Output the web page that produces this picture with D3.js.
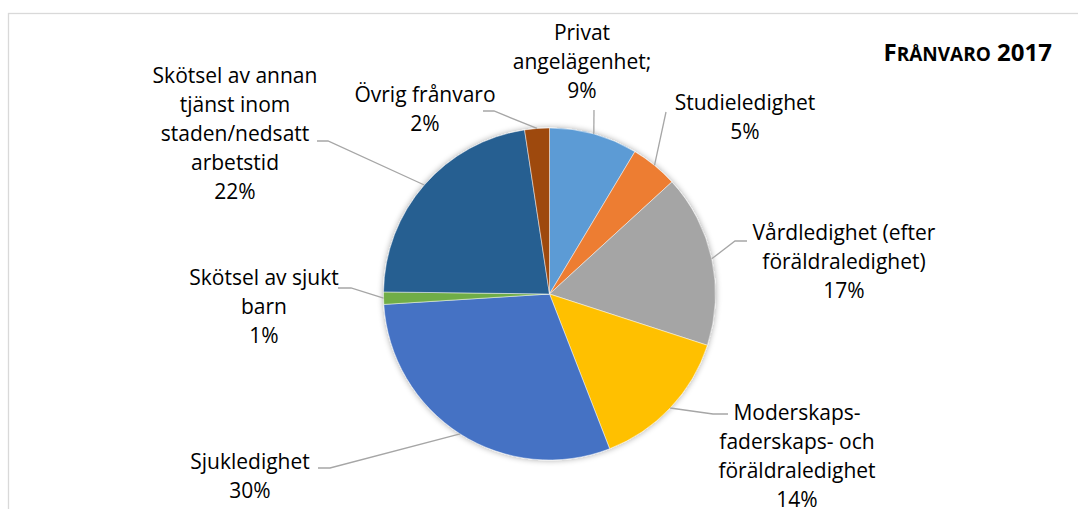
<!DOCTYPE html>
<html><head><meta charset="utf-8">
<script src="https://cdn.jsdelivr.net/npm/d3@7"></script>
<style>
html,body{margin:0;padding:0;background:#fff;}
svg{display:block;}
text{font-family:"Open Sans","Noto Sans",sans-serif;fill:#000;}
</style></head>
<body>
<svg id="chart" width="1078" height="509"></svg>
<script>
// ---- data ----
const categories = [
  "Privat angelägenhet;",
  "Studieledighet",
  "Vårdledighet (efter föräldraledighet)",
  "Moderskaps- faderskaps- och föräldraledighet",
  "Sjukledighet",
  "Skötsel av sjukt barn",
  "Skötsel av annan tjänst inom staden/nedsatt arbetstid",
  "Övrig frånvaro"
];
const values = [8.6, 4.6, 16.8, 14.1, 29.9, 1.2, 22.4, 2.4];
const labelLines = [
  ["Privat", "angelägenhet;"],
  ["Studieledighet"],
  ["Vårdledighet (efter", "föräldraledighet)"],
  ["Moderskaps-", "faderskaps- och", "föräldraledighet"],
  ["Sjukledighet"],
  ["Skötsel av sjukt", "barn"],
  ["Skötsel av annan", "tjänst inom", "staden/nedsatt", "arbetstid"],
  ["Övrig frånvaro"]
];
const colors = ["#5B9BD5", "#ED7D31", "#A5A5A5", "#FFC000", "#4472C4", "#70AD47", "#255E91", "#9E480E"];
const title = "FRÅNVARO 2017";

// ---- layout (label placement) ----
const labelLayout = [
  {x: 582, y: 40,  leader: [[594, 110]]},
  {x: 745, y: 110, leader: [[666, 112]]},
  {x: 844, y: 240, leader: [[747, 241], [735, 241]]},
  {x: 797, y: 420, leader: [[728, 414], [713, 414]]},
  {x: 250, y: 469, leader: [[318, 468], [330, 468]]},
  {x: 264, y: 285, leader: [[338, 288], [351, 288]]},
  {x: 235, y: 83,  leader: [[317, 141], [328, 141]]},
  {x: 425, y: 102, leader: [[483, 111], [494, 111]]}
];
const lineH = 29;

const svg = d3.select("#chart");
const cx = 549.5, cy = 294, R = 166;

// frame
svg.append("rect").attr("x", 8.5).attr("y", 13.5).attr("width", 1200).attr("height", 700)
  .attr("fill", "#fff").attr("stroke", "#d9d9d9").attr("stroke-width", 1.3);

// shadow filter
const defs = svg.append("defs");
const f = defs.append("filter").attr("id", "sh").attr("x", "-20%").attr("y", "-20%").attr("width", "140%").attr("height", "140%");
f.append("feGaussianBlur").attr("in", "SourceAlpha").attr("stdDeviation", 3).attr("result", "b");
f.append("feComponentTransfer").attr("in", "b").attr("result", "o2")
  .append("feFuncA").attr("type", "linear").attr("slope", 0.35);
const m = f.append("feMerge");
m.append("feMergeNode").attr("in", "o2");
m.append("feMergeNode").attr("in", "SourceGraphic");

const pie = d3.pie().sort(null).value(d => d);
const arcs = pie(values);
const arc = d3.arc().innerRadius(0).outerRadius(R);

const g = svg.append("g").attr("transform", `translate(${cx},${cy})`);
g.append("g").attr("filter", "url(#sh)")
  .selectAll("path").data(arcs).join("path")
  .attr("d", arc)
  .attr("fill", (d, i) => colors[i])
  .attr("stroke", "#fff").attr("stroke-width", 0.8).attr("stroke-opacity", 0.6);

const total = d3.sum(values);

// leaders
const line = d3.line();
arcs.forEach((a, i) => {
  const mid = (a.startAngle + a.endAngle) / 2;
  const px = cx + R * Math.sin(mid), py = cy - R * Math.cos(mid);
  const pts = labelLayout[i].leader.concat([[px, py]]);
  svg.append("path").attr("d", line(pts)).attr("fill", "none")
    .attr("stroke", "#a6a6a6").attr("stroke-width", 1.3);
});

// labels
arcs.forEach((a, i) => {
  const L = labelLayout[i];
  const lines = labelLines[i].concat([Math.round(values[i] / total * 100) + "%"]);
  const t = svg.append("text").attr("text-anchor", "middle").style("font-size", "21px");
  lines.forEach((s, k) => {
    t.append("tspan").attr("x", L.x).attr("y", L.y + k * lineH).text(s);
  });
});

// title
const tt = svg.append("text").attr("x", 1052).attr("y", 61).attr("text-anchor", "end")
  .style("font-weight", "bold");
tt.append("tspan").style("font-size", "24px").text(title.slice(0, 1));
tt.append("tspan").style("font-size", "19px").text(title.slice(1, 8));
tt.append("tspan").style("font-size", "24px").text(title.slice(8));
</script>
</body></html>
